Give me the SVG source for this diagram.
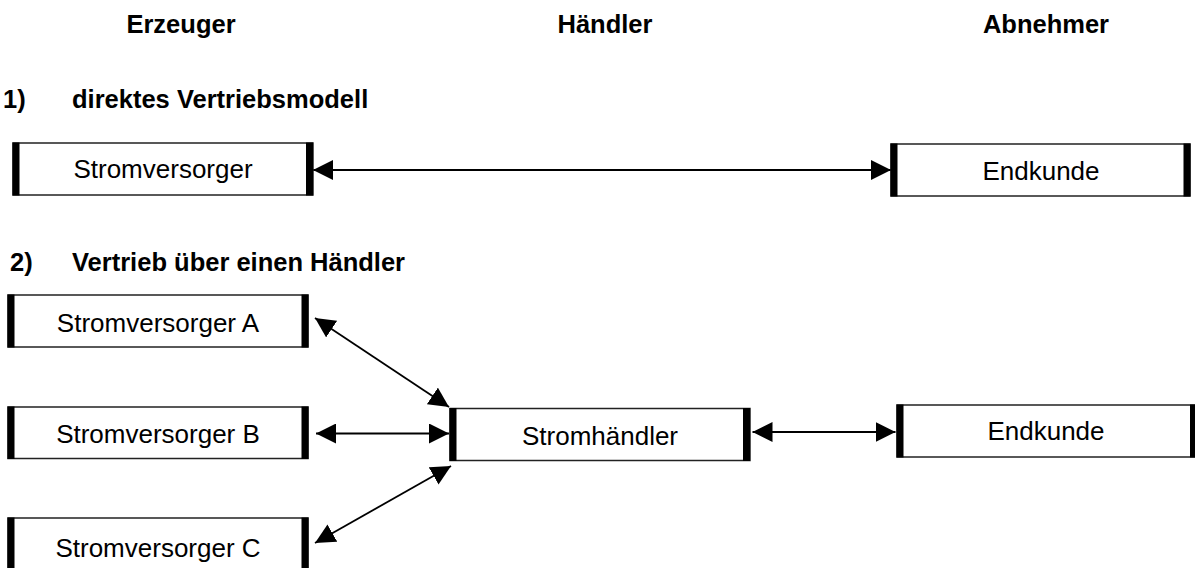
<svg xmlns="http://www.w3.org/2000/svg" width="1195" height="568" viewBox="0 0 1195 568">
  <style>
    text { font-family: "Liberation Sans", Arial, sans-serif; fill: #000; }
    .head { font-size: 25.5px; font-weight: bold; text-anchor: middle; }
    .sect { font-size: 25.5px; font-weight: bold; }
    .label { font-size: 26px; text-anchor: middle; }
    .frame { fill: #fff; stroke: #222; stroke-width: 1.5; }
    .bar { fill: #000; }
    .link { stroke: #000; stroke-width: 1.8; fill: none; marker-start: url(#tip); marker-end: url(#tip); }
  </style>
  <defs>
    <marker id="tip" viewBox="0 0 20 20" refX="20" refY="10" markerWidth="20" markerHeight="20" markerUnits="userSpaceOnUse" orient="auto-start-reverse">
      <path d="M0,0 L20,10 L0,20 Z" fill="#000"/>
    </marker>
  </defs>
  <rect width="1195" height="568" fill="#fff"/>

  <!-- column headings -->
  <g id="headings">
    <text class="head" x="181" y="33">Erzeuger</text>
    <text class="head" x="605" y="33">Händler</text>
    <text class="head" x="1046" y="33">Abnehmer</text>
  </g>

  <!-- section titles -->
  <g id="titles">
    <text class="sect" x="3" y="108">1)</text>
    <text class="sect" x="72" y="108">direktes Vertriebsmodell</text>
    <text class="sect" x="10" y="271">2)</text>
    <text class="sect" x="72" y="271">Vertrieb über einen Händler</text>
  </g>

  <!-- connectors -->
  <g id="connectors">
    <line class="link" x1="313" y1="170" x2="891" y2="170"/>
    <line class="link" x1="315" y1="318" x2="449" y2="407"/>
    <line class="link" x1="316" y1="433.5" x2="449" y2="433.5"/>
    <line class="link" x1="315" y1="543" x2="451" y2="466"/>
    <line class="link" x1="752.5" y1="432" x2="895.5" y2="432"/>
  </g>

  <!-- section 1 -->
  <g id="stromversorger">
    <rect class="frame" x="13" y="143" width="300" height="52"/>
    <rect class="bar" x="12.5" y="142.5" width="7" height="53"/>
    <rect class="bar" x="306" y="142.5" width="7" height="53"/>
    <text class="label" x="163" y="177.5">Stromversorger</text>
  </g>
  <g id="endkunde-1">
    <rect class="frame" x="891" y="144" width="299" height="52"/>
    <rect class="bar" x="890.5" y="143.5" width="7" height="53"/>
    <rect class="bar" x="1183.5" y="143.5" width="7" height="53"/>
    <text class="label" x="1041" y="180">Endkunde</text>
  </g>

  <!-- section 2 -->
  <g id="stromversorger-a">
    <rect class="frame" x="8" y="295" width="300" height="52"/>
    <rect class="bar" x="7.5" y="294.5" width="7" height="53"/>
    <rect class="bar" x="301.5" y="294.5" width="7" height="53"/>
    <text class="label" x="158" y="332">Stromversorger A</text>
  </g>
  <g id="stromversorger-b">
    <rect class="frame" x="8" y="407" width="300" height="51.5"/>
    <rect class="bar" x="7.5" y="406.5" width="7" height="52.5"/>
    <rect class="bar" x="301.5" y="406.5" width="7" height="52.5"/>
    <text class="label" x="158" y="443">Stromversorger B</text>
  </g>
  <g id="stromversorger-c">
    <rect class="frame" x="8" y="518" width="300" height="52"/>
    <rect class="bar" x="7.5" y="517.5" width="7" height="53"/>
    <rect class="bar" x="301.5" y="517.5" width="7" height="53"/>
    <text class="label" x="158" y="557">Stromversorger C</text>
  </g>
  <g id="stromhaendler">
    <rect class="frame" x="450" y="408.5" width="300" height="52"/>
    <rect class="bar" x="449.5" y="408" width="7" height="53"/>
    <rect class="bar" x="743" y="408" width="7" height="53"/>
    <text class="label" x="600" y="445">Stromhändler</text>
  </g>
  <g id="endkunde-2">
    <rect class="frame" x="897" y="405" width="300" height="52"/>
    <rect class="bar" x="896.5" y="404.5" width="7" height="53"/>
    <rect class="bar" x="1190" y="404.5" width="7" height="53"/>
    <text class="label" x="1046" y="440">Endkunde</text>
  </g>
</svg>
